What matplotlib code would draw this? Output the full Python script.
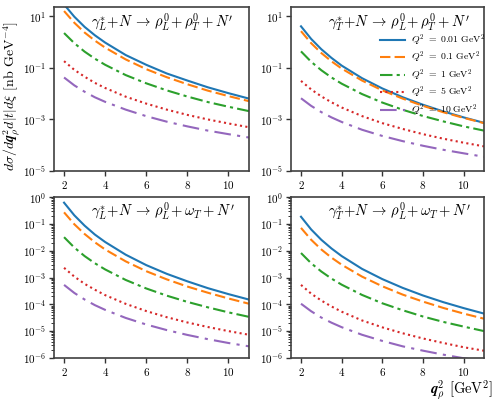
import matplotlib
matplotlib.use("Agg")
import matplotlib.pyplot as plt
from matplotlib.ticker import LogLocator, NullLocator, NullFormatter

plt.rcParams['mathtext.fontset'] = 'cm'
plt.rcParams['font.family'] = 'serif'
plt.rcParams['font.serif'] = ['cmr10']
plt.rcParams['axes.formatter.use_mathtext'] = True

# q_rho^2 in GeV^2
q2 = [2, 2.5, 3, 3.5, 4, 5, 6, 7, 8, 9, 10, 11]

Q2_labels = ['0.01', '0.1', '1', '5', '10']

# gamma_L + N -> rho_L + rho_T + N'
LL_001 = [28, 9.4, 3.8, 1.8, 0.94, 0.31, 0.13, 0.060, 0.032, 0.0175, 0.0104, 0.0064]
LL_01 = [15.6, 5.5, 2.3, 1.12, 0.60, 0.21, 0.088, 0.043, 0.023, 0.013, 0.0080, 0.0051]
LL_1 = [2.2, 0.89, 0.42, 0.224, 0.13, 0.052, 0.025, 0.0133, 0.0077, 0.0047, 0.0031, 0.0021]
LL_5 = [0.18, 0.083, 0.045, 0.026, 0.0165, 0.0076, 0.0041, 0.0024, 0.0015, 0.0010, 7.0e-4, 5.0e-4]
LL_10 = [0.042, 0.0208, 0.0118, 0.0072, 0.0048, 0.0024, 0.00134, 8.2e-4, 5.4e-4, 3.7e-4, 2.7e-4, 2.0e-4]

# gamma_T + N -> rho_L + rho_T + N'
TL_001 = [4.0, 1.30, 0.52, 0.24, 0.121, 0.0395, 0.0158, 0.00725, 0.0037, 0.00204, 0.0012, 7.4e-4]
TL_01 = [2.6, 0.89, 0.37, 0.177, 0.093, 0.032, 0.0133, 0.0064, 0.00336, 0.0019, 0.00115, 7.2e-4]
TL_1 = [0.43, 0.170, 0.080, 0.042, 0.0242, 0.0096, 0.0045, 0.00237, 0.00136, 8.4e-4, 5.4e-4, 3.7e-4]
TL_5 = [0.031, 0.0145, 0.0078, 0.0046, 0.0029, 0.00135, 7.2e-4, 4.3e-4, 2.7e-4, 1.8e-4, 1.26e-4, 9.1e-5]
TL_10 = [6.6e-3, 3.35e-3, 1.92e-3, 1.2e-3, 8.0e-4, 4.0e-4, 2.3e-4, 1.45e-4, 9.6e-5, 6.7e-5, 4.9e-5, 3.6e-5]

# gamma_L + N -> rho_L + omega_T + N'
LW_001 = [0.62, 0.209, 0.086, 0.040, 0.0211, 0.0071, 0.0029, 0.00137, 7.2e-4, 4.0e-4, 2.4e-4, 1.5e-4]
LW_01 = [0.27, 0.097, 0.042, 0.0206, 0.0111, 0.0040, 0.00172, 8.5e-4, 4.6e-4, 2.7e-4, 1.65e-4, 1.05e-4]
LW_1 = [0.032, 0.0131, 0.0063, 0.0034, 0.0020, 8.1e-4, 3.9e-4, 2.1e-4, 1.23e-4, 7.7e-5, 5.0e-5, 3.4e-5]
LW_5 = [2.3e-3, 1.08e-3, 5.8e-4, 3.5e-4, 2.2e-4, 1.04e-4, 5.6e-5, 3.3e-5, 2.1e-5, 1.42e-5, 1.0e-5, 7.3e-6]
LW_10 = [5.3e-4, 2.65e-4, 1.51e-4, 9.3e-5, 6.2e-5, 3.1e-5, 1.76e-5, 1.09e-5, 7.2e-6, 5.0e-6, 3.6e-6, 2.7e-6]

# gamma_T + N -> rho_L + omega_T + N'
TW_001 = [0.185, 0.062, 0.0255, 0.0121, 6.3e-3, 2.1e-3, 8.7e-4, 4.1e-4, 2.13e-4, 1.2e-4, 7.2e-5, 4.5e-5]
TW_01 = [0.071, 0.0256, 0.0111, 5.5e-3, 3.0e-3, 1.08e-3, 4.7e-4, 2.3e-4, 1.26e-4, 7.3e-5, 4.5e-5, 2.9e-5]
TW_1 = [8.2e-3, 3.4e-3, 1.67e-3, 9.1e-4, 5.4e-4, 2.24e-4, 1.09e-4, 6.0e-5, 3.5e-5, 2.2e-5, 1.47e-5, 1.0e-5]
TW_5 = [5.3e-4, 2.5e-4, 1.38e-4, 8.3e-5, 5.3e-5, 2.5e-5, 1.38e-5, 8.3e-6, 5.3e-6, 3.6e-6, 2.5e-6, 1.85e-6]
TW_10 = [1.05e-4, 5.5e-5, 3.2e-5, 2.06e-5, 1.4e-5, 7.3e-6, 4.3e-6, 2.7e-6, 1.86e-6, 1.32e-6, 9.7e-7, 7.4e-7]

panels = [
    (r"$\gamma_L^{*}\!+\!N\,\to\,\rho_L^0\!+\rho_T^0+N'$", [LL_001, LL_01, LL_1, LL_5, LL_10]),
    (r"$\gamma_T^{*}\!+\!N\,\to\,\rho_L^0\!+\rho_T^0+N'$", [TL_001, TL_01, TL_1, TL_5, TL_10]),
    (r"$\gamma_L^{*}\!+\!N\,\to\,\rho_L^0\!+\omega_T+N'$", [LW_001, LW_01, LW_1, LW_5, LW_10]),
    (r"$\gamma_T^{*}\!+\!N\,\to\,\rho_L^0\!+\omega_T+N'$", [TW_001, TW_01, TW_1, TW_5, TW_10]),
]

colors = ['#1f77b4', '#ff7f0e', '#2ca02c', '#d62728', '#9467bd']
styles = ['-', (0, (5, 2)), (0, (6, 2, 1.5, 2)), (0, (1, 1.6)), (0, (8, 3, 1.5, 3))]

fig = plt.figure(figsize=(4.98, 3.99), dpi=100)
boxes = [
    [0.108, 0.571, 0.392, 0.411],
    [0.584, 0.571, 0.388, 0.411],
    [0.108, 0.103, 0.392, 0.403],
    [0.584, 0.103, 0.388, 0.403],
]

for i, (title, series) in enumerate(panels):
    ax = fig.add_axes(boxes[i])
    for ys, c, ls, lab in zip(series, colors, styles, Q2_labels):
        ax.plot(q2, ys, color=c, ls=ls, lw=1.5,
                label=r"$Q^2\ =\ %s\ \mathrm{GeV}^2$" % lab)
    ax.set_yscale('log')
    ax.set_xlim(1.5, 11)
    ax.set_xticks([2, 4, 6, 8, 10])
    if i < 2:
        ax.set_ylim(1e-5, 22)
        ax.set_yticks([1e1, 1e-1, 1e-3, 1e-5])
        ax.yaxis.set_minor_locator(NullLocator())
    else:
        ax.set_ylim(1e-6, 1)
        ax.set_yticks([1, 1e-1, 1e-2, 1e-3, 1e-4, 1e-5, 1e-6])
        ax.yaxis.set_minor_locator(LogLocator(base=10, subs=range(2, 10), numticks=20))
        ax.yaxis.set_minor_formatter(NullFormatter())
    ax.tick_params(labelsize=8, length=3.5, width=1.0, color='0.2', pad=2)
    ax.tick_params(which='minor', length=2, width=0.7, color='0.2')
    for sp in ax.spines.values():
        sp.set_color('0.25')
        sp.set_linewidth(1.2)
    ax.text(0.19, 0.91, title, transform=ax.transAxes, fontsize=10.5,
            ha='left', va='center')
    if i == 0:
        ax.set_ylabel(r"$d\sigma/d\mathbfit{q}_\rho^2 d|t|d\xi$ [nb GeV$^{-4}$]", fontsize=10)
        ax.yaxis.set_label_coords(-0.165, 0.46)
    if i == 1:
        ax.legend(loc='upper right', bbox_to_anchor=(1.05, 0.9), frameon=False,
                  fontsize=7, handlelength=2.6, labelspacing=0.2, handletextpad=0.6)
    if i == 3:
        ax.set_xlabel(r"$\mathbfit{q}_\rho^2$ [GeV$^2$]", fontsize=10.5)
        ax.xaxis.set_label_coords(1.045, -0.125)
        ax.xaxis.label.set_ha('right')

fig.savefig("out.png", dpi=100)
